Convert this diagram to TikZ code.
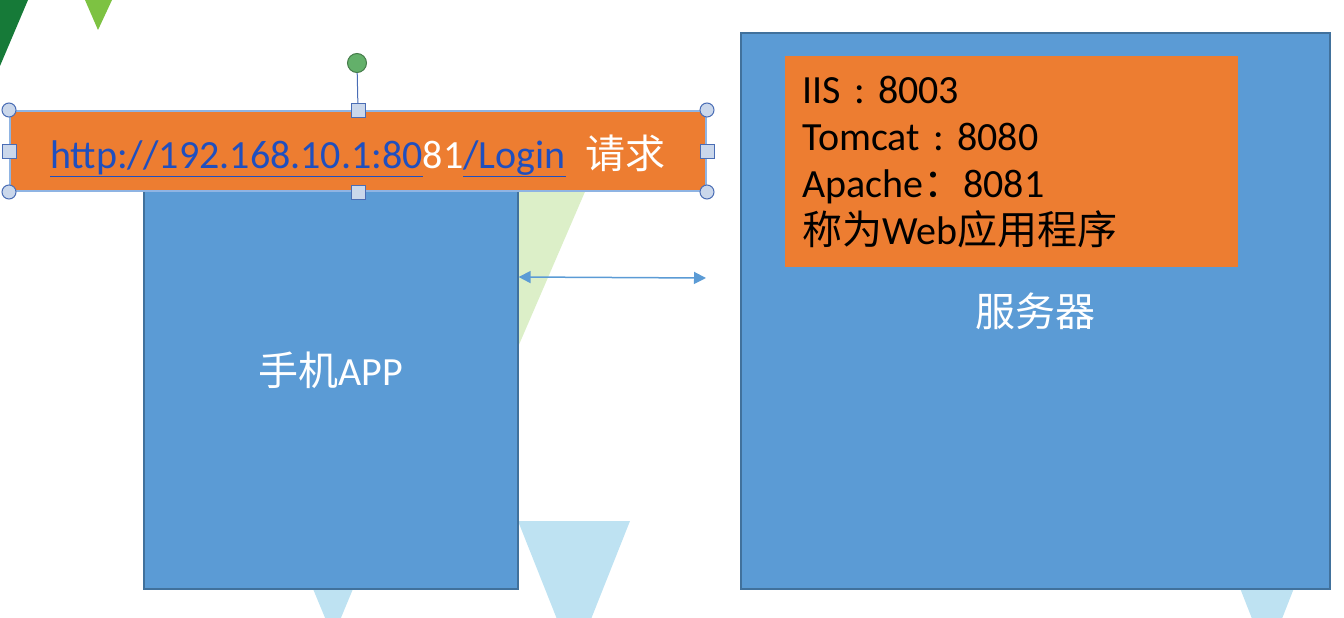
\documentclass[tikz,border=0pt]{standalone}
\usepackage{fontspec}
\setmainfont{Carlito}
\newfontfamily\cjk{Noto Sans CJK SC}
\usetikzlibrary{arrows.meta,positioning}
\frenchspacing

\definecolor{boxblue}{HTML}{5B9BD5}
\definecolor{boxedge}{HTML}{41719C}
\definecolor{bannerorange}{HTML}{ED7D31}
\definecolor{linkblue}{HTML}{1F4FBF}
\definecolor{darkgreen}{HTML}{167A38}
\definecolor{leafgreen}{HTML}{7DC242}
\definecolor{palegreen}{HTML}{DCEFC8}
\definecolor{paleblue}{HTML}{BEE2F2}
\definecolor{selblue}{HTML}{8FB4E3}
\definecolor{handlefill}{HTML}{CAD7EB}
\definecolor{handleedge}{HTML}{4A6DB5}
\definecolor{rotgreen}{HTML}{63B06A}

\begin{document}
\begin{tikzpicture}[
    x = 1pt, y = -1pt, % one unit per pixel, y downwards
    bigfont/.style = {font=\fontsize{40}{47}\selectfont},
    bluebox/.style = {draw = boxedge, line width = 1.2pt, fill = boxblue,
        text = white, bigfont, inner sep = 0pt},
    cornerhandle/.style = {circle, draw = handleedge, fill = handlefill,
        line width = 1pt, minimum size = 14pt, inner sep = 0pt},
    sidehandle/.style = {rectangle, draw = handleedge, fill = handlefill,
        line width = 1pt, minimum size = 14pt, inner sep = 0pt}
    ]
    \useasboundingbox (0,0) rectangle (1344,618);

    % slide background shapes
    \fill[darkgreen] (0,0) -- (28,0) -- (0,66) -- cycle;
    \fill[leafgreen] (85,0) -- (112,0) -- (98,30) -- cycle;
    \fill[palegreen] (450,150) -- (603,150) -- (518,347) -- cycle;
    \fill[paleblue] (518,521) -- (630,521) -- (574,662) -- cycle;
    \fill[paleblue] (301,560) -- (365,560) -- (333,637) -- cycle;
    \fill[paleblue] (1229,560) -- (1305,560) -- (1267,657) -- cycle;

    % client
    \node[bluebox, minimum width = 374pt, minimum height = 437pt]
        (phone) at (331,370.5) {{\cjk 手机}APP};

    % request banner (selected)
    \node[draw = selblue, line width = 2pt, fill = bannerorange, bigfont,
        minimum width = 696pt, minimum height = 80pt, inner sep = 0pt,
        text height = 42pt, text depth = 8pt]
        (banner) at (358,151)
        {\textcolor{linkblue}{\underline{http://192.168.10.1:80}}\textcolor{white}{81}\textcolor{linkblue}{\underline{/Login}}\hspace{20pt}\textcolor{white}{\cjk 请求}};
    \node[circle, draw = rotgreen!70!black, fill = rotgreen, line width = 1pt,
        minimum width = 17pt, minimum height = 19pt, inner sep = 0pt]
        (rotate) at (357,63) {};
    \draw[handleedge, line width = 1pt] (rotate) -- (banner.north);
    \foreach \pos in {north west, north east, south west, south east}
        \node[cornerhandle] at (banner.\pos) {};
    \foreach \pos in {north, south, west, east}
        \node[sidehandle] at (banner.\pos) {};

    % server
    \node[bluebox, minimum width = 589pt, minimum height = 556pt]
        (server) at (1035.5,311) {\raisebox{-4pt}{\cjk 服务器}};
    \node[fill = bannerorange, bigfont, align = left, anchor = north west,
        text width = 419pt, minimum height = 211pt, inner xsep = 17pt]
        (apps) at (785,56)
        {IIS : 8003\\Tomcat : 8080\\Apache{\cjk ：}8081\\{\cjk 称为}Web{\cjk 应用程序}};

    % connection
    \coordinate (link) at (706,278);
    \draw[{Triangle[length=12pt,width=12pt]}-{Triangle[length=12pt,width=12pt]},
        boxblue, line width = 1.5pt] (phone.east |- 0,277) -- (link);
\end{tikzpicture}
\end{document}
